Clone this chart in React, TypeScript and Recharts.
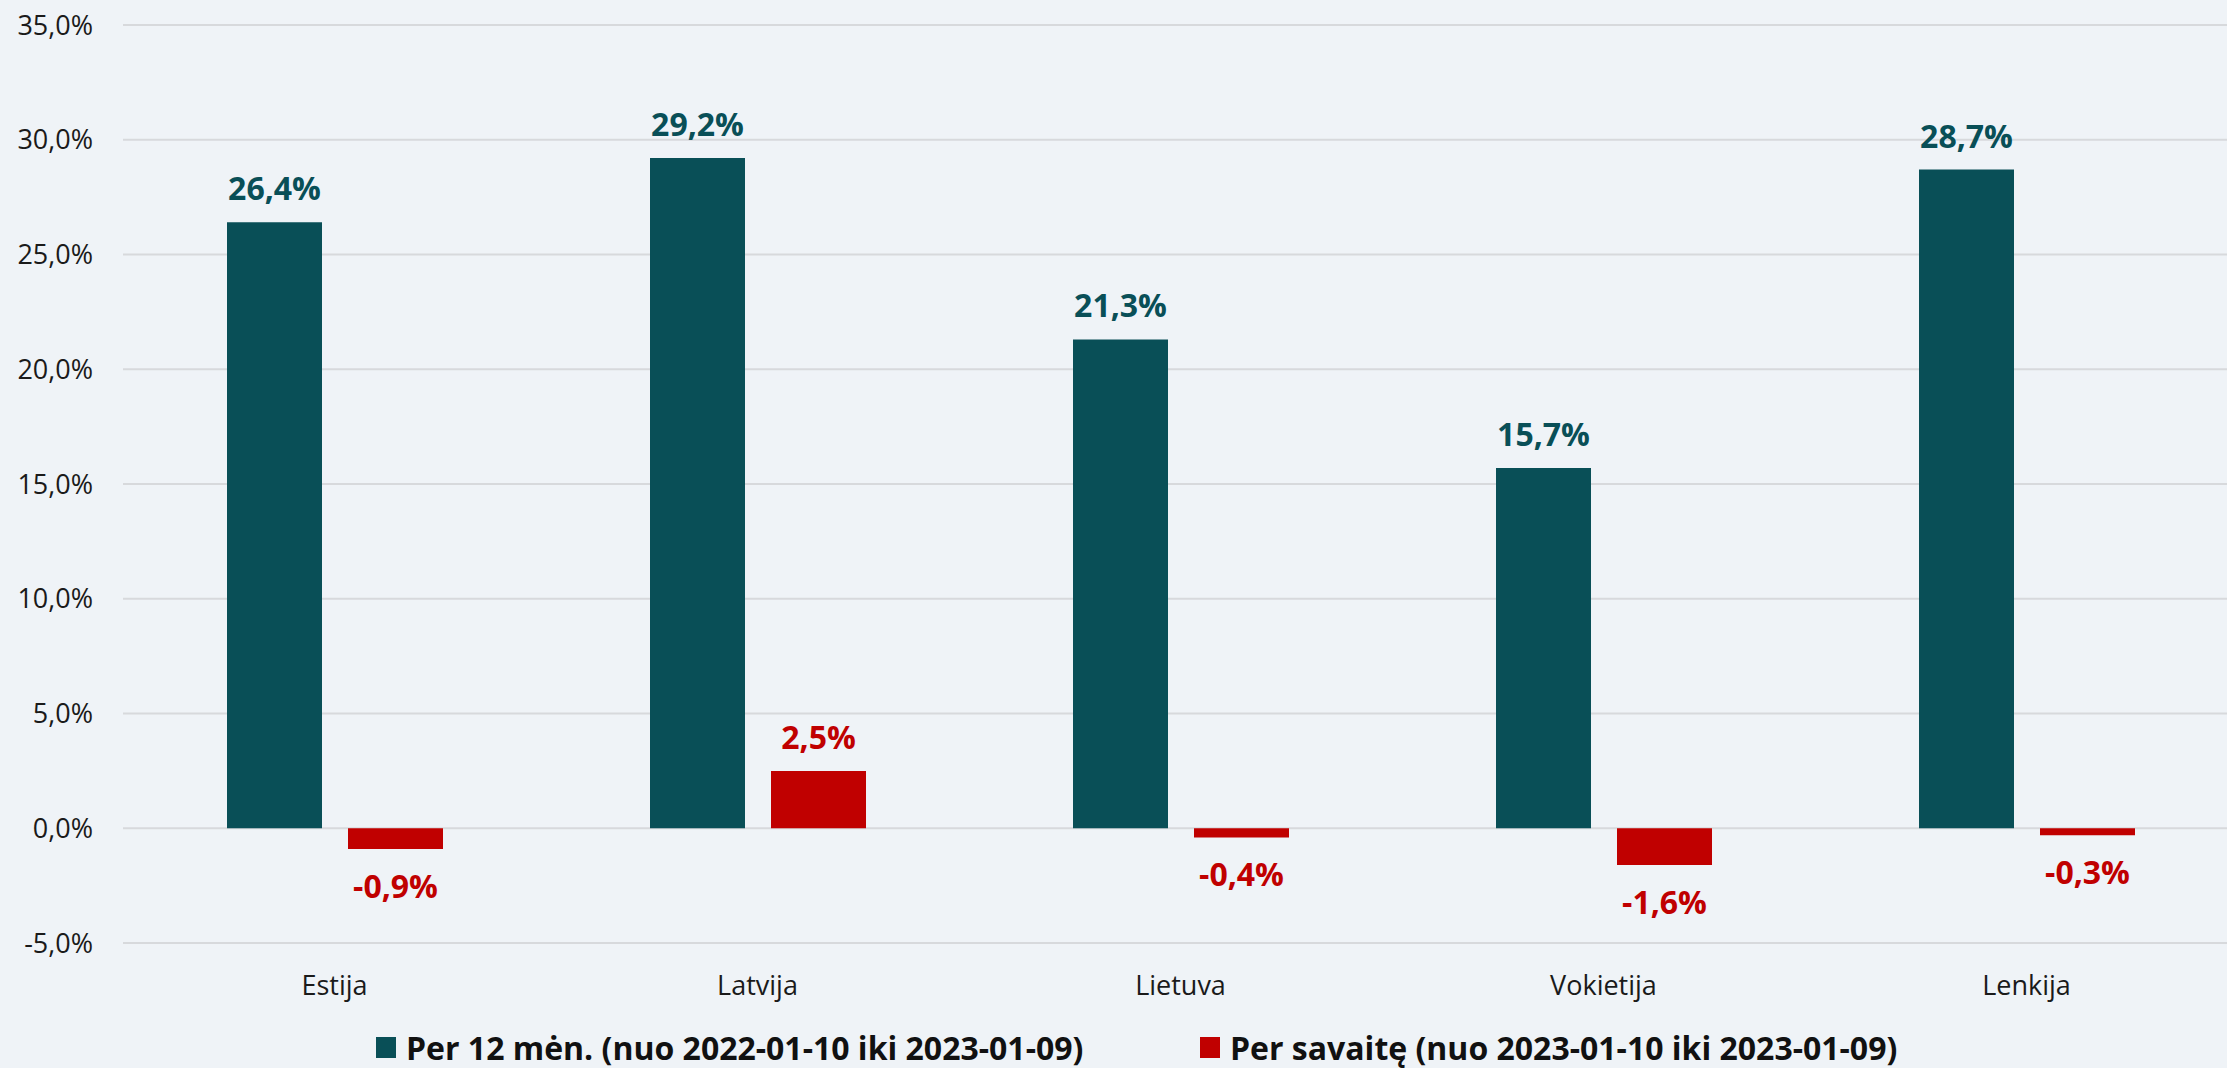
import { Bar, BarChart, CartesianGrid, LabelList, XAxis, YAxis } from "recharts";

const COUNTRIES = ["Estija", "Latvija", "Lietuva", "Vokietija", "Lenkija"];
const YEAR_CHANGE = [26.4, 29.2, 21.3, 15.7, 28.7];
const WEEK_CHANGE = [-0.9, 2.5, -0.4, -1.6, -0.3];
const Y_TICKS = [-5, 0, 5, 10, 15, 20, 25, 30, 35];

const YEAR_LABEL = "Per 12 mėn. (nuo 2022-01-10 iki 2023-01-09)";
const WEEK_LABEL = "Per savaitę (nuo 2023-01-10 iki 2023-01-09)";

const TEAL = "#094f57";
const RED = "#c00000";
const BG = "#eff3f7";
const FONT = "'Open Sans', 'Noto Sans', sans-serif";

const W = 2227;
const H = 1068;
// the plot area runs a little past the right edge of the picture
const CHART_W = 2238;

const data = COUNTRIES.map((name, i) => ({
  name,
  year: YEAR_CHANGE[i],
  week: WEEK_CHANGE[i],
}));

function pct(value: number): string {
  return value.toFixed(1).replace(".", ",") + "%";
}

function makeLabel(color: string) {
  return (props: any) => {
    const { x, y, width, height, value } = props;
    const v = Number(value);
    const top = Math.min(y, y + height);
    const bottom = Math.max(y, y + height);
    const ty = v >= 0 ? top - 22 : bottom + 49;
    return (
      <text
        x={x + width / 2}
        y={ty}
        textAnchor="middle"
        fill={color}
        fontFamily={FONT}
        fontWeight={700}
        fontSize={32}
      >
        {pct(v)}
      </text>
    );
  };
}

function LegendItem({ left, color, label }: { left: number; color: string; label: string }) {
  return (
    <div
      style={{
        position: "absolute",
        left,
        top: 1026,
        display: "flex",
        alignItems: "center",
        whiteSpace: "nowrap",
      }}
    >
      <span style={{ width: 20, height: 21, background: color, marginRight: 10 }} />
      <span style={{ fontFamily: FONT, fontWeight: 700, fontSize: 32, color: "#111" }}>{label}</span>
    </div>
  );
}

export default function App() {
  return (
    <div
      style={{
        position: "absolute",
        left: 0,
        top: 0,
        width: W,
        height: H,
        background: BG,
        overflow: "hidden",
      }}
    >
      <BarChart
        width={CHART_W}
        height={H}
        data={data}
        margin={{ top: 25, right: 0, bottom: 55, left: 0 }}
        barSize={95}
        barGap={26}
      >
        <CartesianGrid vertical={false} stroke="#d7d9dc" strokeWidth={2} />
        <XAxis
          dataKey="name"
          axisLine={false}
          tickLine={false}
          height={70}
          tickMargin={27}
          tick={{ fill: "#1a1a1a", fontFamily: FONT, fontSize: 27 }}
        />
        <YAxis
          type="number"
          domain={[-5, 35]}
          ticks={Y_TICKS}
          width={123}
          axisLine={false}
          tickLine={false}
          tickMargin={24}
          tickFormatter={(v) => pct(Number(v))}
          tick={{ fill: "#1a1a1a", fontFamily: FONT, fontSize: 27 }}
        />
        <Bar dataKey="year" fill={TEAL} isAnimationActive={false}>
          <LabelList dataKey="year" content={makeLabel(TEAL)} />
        </Bar>
        <Bar dataKey="week" fill={RED} isAnimationActive={false}>
          <LabelList dataKey="week" content={makeLabel(RED)} />
        </Bar>
      </BarChart>
      <LegendItem left={376} color={TEAL} label={YEAR_LABEL} />
      <LegendItem left={1200} color={RED} label={WEEK_LABEL} />
    </div>
  );
}
